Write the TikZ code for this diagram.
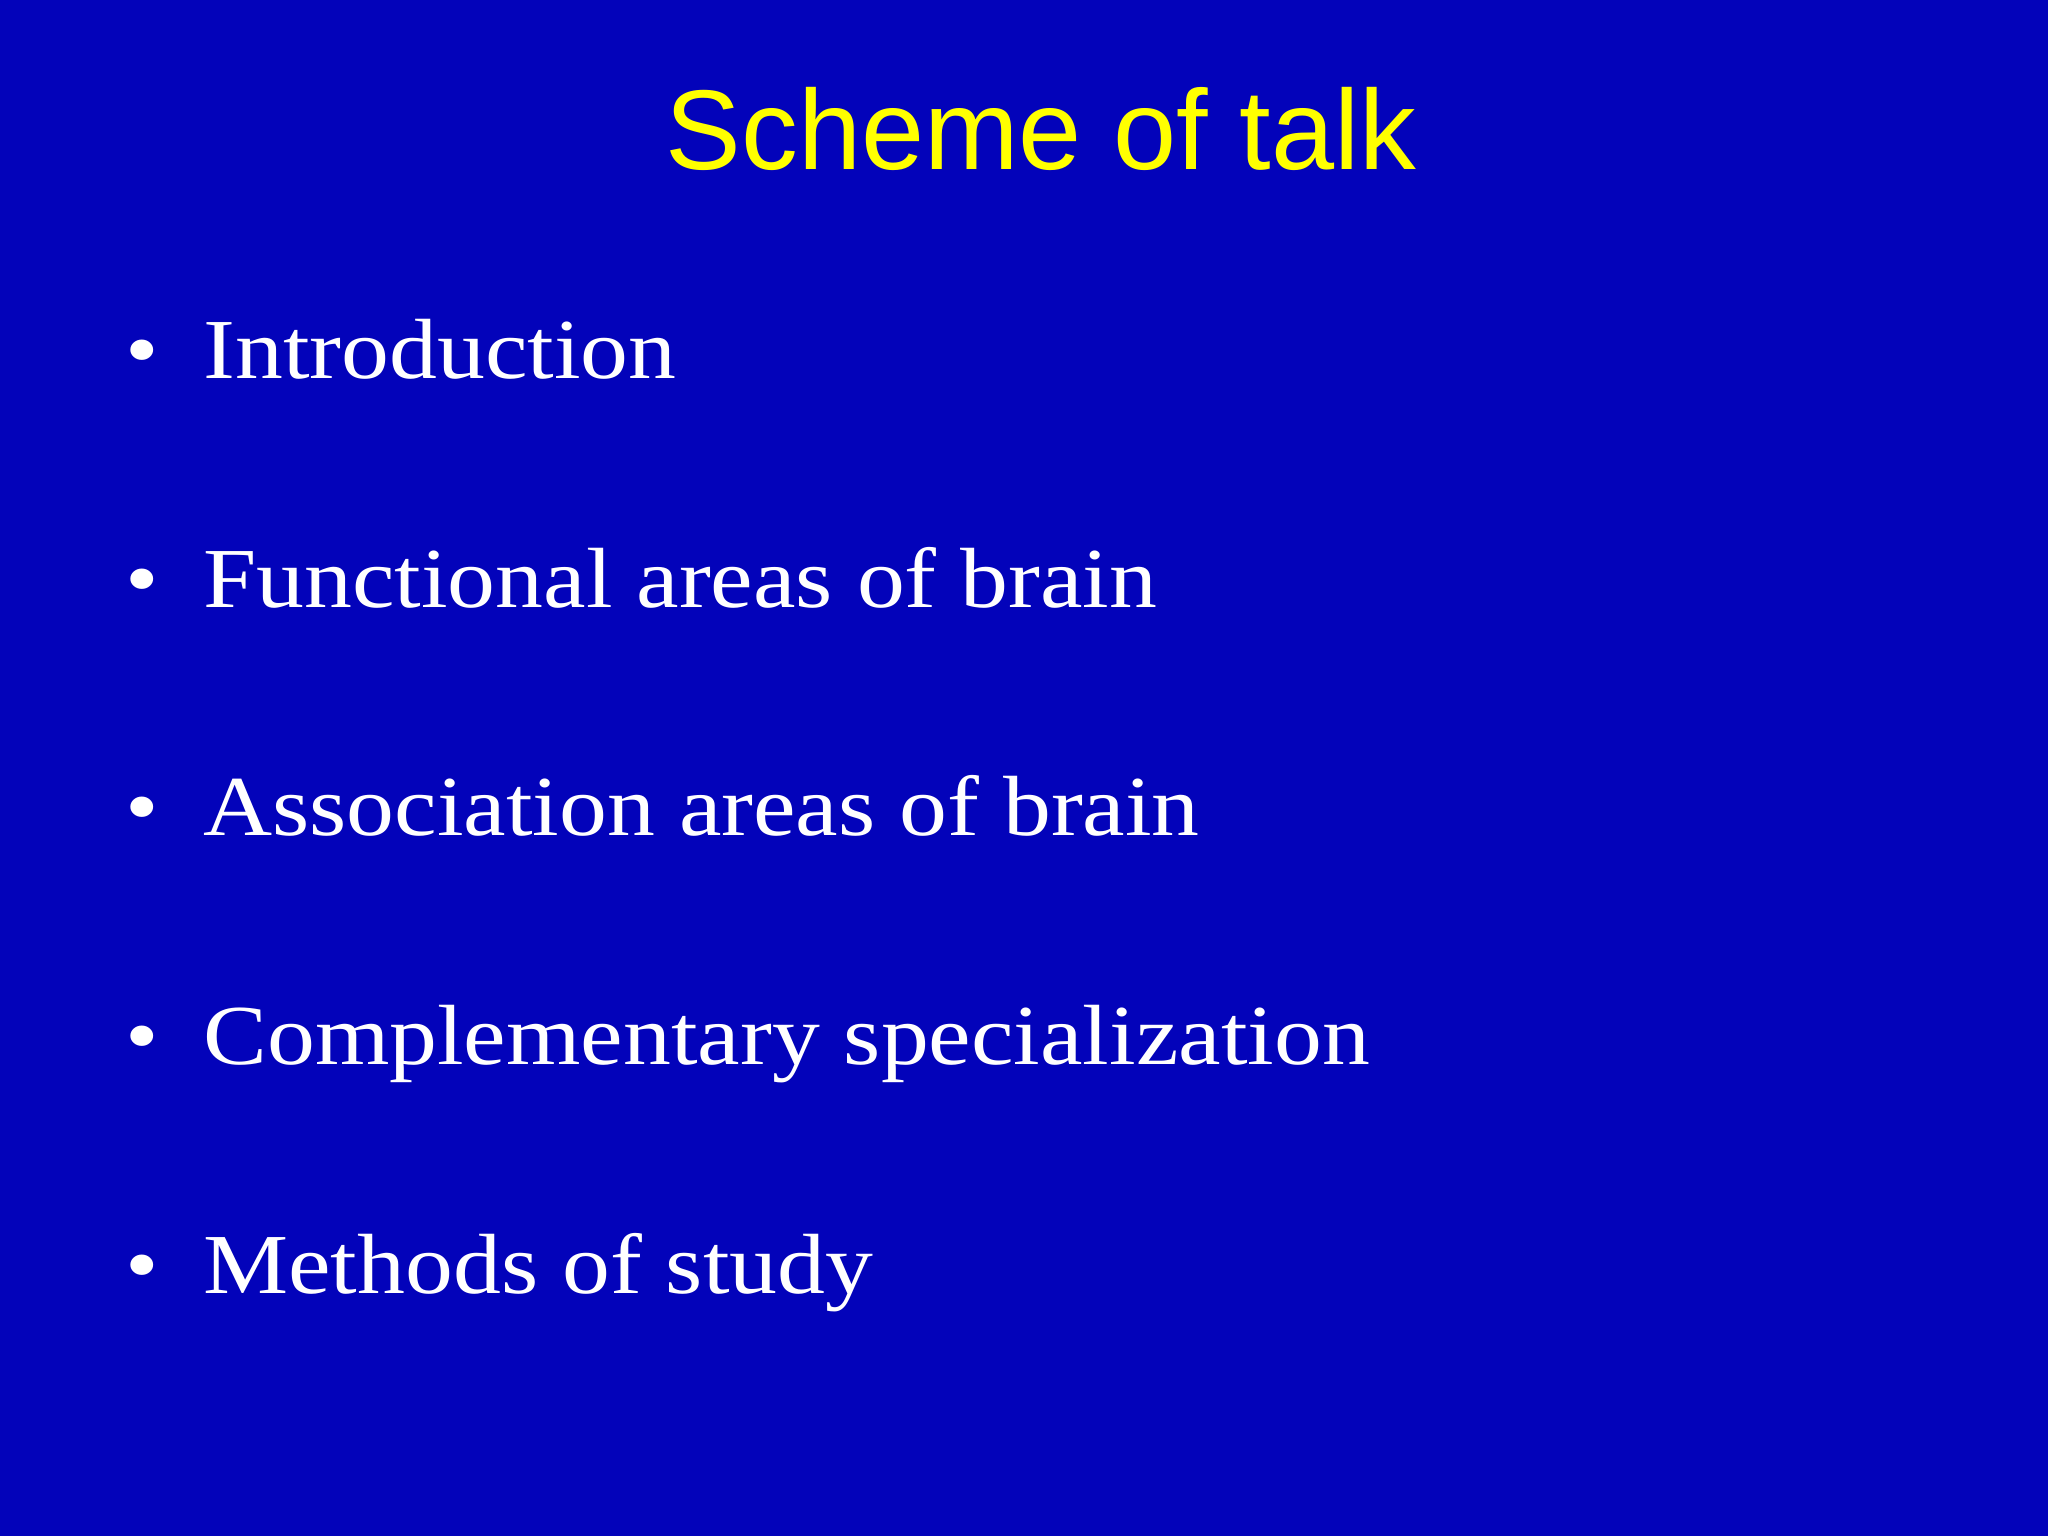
\documentclass[tikz,border=0pt]{standalone}
\usepackage{fontspec}
\setmainfont{Liberation Serif}[FakeStretch=1.12]
\newfontfamily\titlefont{Liberation Sans}
\definecolor{bg}{RGB}{3,3,186}
\definecolor{ttl}{RGB}{255,255,0}
\begin{document}
\begin{tikzpicture}[x=0.01cm,y=-0.01cm,
  item/.style={anchor=base west,inner sep=0pt,text=white,font=\fontsize{18.6pt}{22pt}\selectfont},
  bul/.style={anchor=base,inner sep=0pt,text=white,font=\fontsize{18.6pt}{22pt}\selectfont}]
\fill[bg] (0,0) rectangle (1568,1176);
\useasboundingbox (0,0) rectangle (1568,1176);
\node[anchor=base,inner sep=0pt,text=ttl,font=\titlefont\fontsize{24.7pt}{28pt}\selectfont] (title) at (797,130) {Scheme of talk};
\foreach \t/\y/\n in {Introduction/290/a,Functional areas of brain/465/b,Association areas of brain/640/c,Complementary specialization/815/d,Methods of study/990/e}{
  \node[bul] (bul\n) at (109,\y) {•};
  \node[item] (it\n) at (155,\y) {\t};
}
\end{tikzpicture}
\end{document}
